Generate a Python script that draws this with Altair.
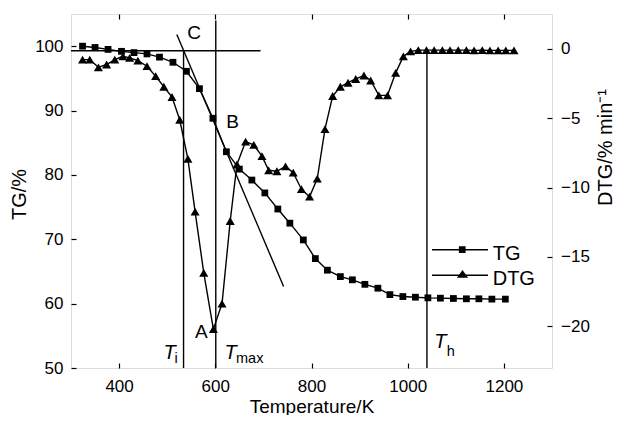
import altair as alt
import pandas as pd

FONT = "Liberation Sans"

# ---- data ----
tg_temp = [324, 350, 377, 405, 431, 458, 484, 512, 540, 567, 595, 623, 650, 676, 703,
           730, 755, 783, 808, 833, 860, 885, 911, 938, 963, 990, 1016, 1042, 1068,
           1095, 1122, 1148, 1175, 1203]
tg_mass = [100.0, 99.8, 99.5, 99.2, 99.0, 98.8, 98.3, 97.5, 96.1, 93.4, 88.8, 83.6, 80.9,
           79.2, 77.2, 74.7, 72.5, 69.9, 67.0, 65.2, 64.2, 63.7, 63.0, 62.4, 61.4, 61.1,
           61.0, 60.9, 60.85, 60.8, 60.75, 60.75, 60.7, 60.7]

dtg_temp = [324, 339, 357, 374, 391, 408, 422, 439, 458, 476, 493, 510, 526, 543, 558,
            576, 596, 614, 631, 645, 663, 680, 697, 711, 728, 746, 762, 779, 796, 812,
            828, 844, 860, 876, 892, 909, 923, 940, 958, 975, 991, 1006, 1022, 1039,
            1055, 1072, 1088, 1105, 1122, 1138, 1155, 1171, 1188, 1204, 1221]
dtg_rate = [-0.79, -0.79, -1.34, -1.14, -0.79, -0.55, -0.66, -0.86, -1.26, -1.98, -2.74,
            -3.48, -5.12, -7.93, -11.74, -16.14, -20.2, -18.36, -12.41, -8.34, -6.69,
            -6.93, -7.74, -8.76, -8.83, -8.48, -8.93, -10.12, -10.66, -9.36, -5.79,
            -3.41, -2.74, -2.45, -2.18, -1.93, -2.29, -3.36, -3.36, -1.74, -0.55, -0.19,
            -0.1, -0.1, -0.1, -0.1, -0.1, -0.1, -0.1, -0.12, -0.1, -0.12, -0.12, -0.12,
            -0.12]

# construction lines (in K and TG %)
hline_t = [300]
hline_t2 = [694]
hline_v = [99.3]
vline_t = [534, 601, 1040]
vline_top = [99.3, 104.0, 99.2]
vline_bottom = [50, 50, 50]
tangent_t = [520, 742]
tangent_v = [101.8, 62.65]

# annotations
letter_text = ["C", "B", "A"]
letter_t = [556, 636, 571]
letter_v = [101.1, 87.3, 54.6]
T_t = [505, 632, 1068]
T_v = [51.42, 51.42, 53.05]
sub_text = ["i", "max", "h"]
sub_t = [515, 643, 1081]
sub_v = [50.74, 50.74, 51.87]

series = ["TG", "DTG"]

x_ticks = [400, 600, 800, 1000, 1200]
tg_ticks = [50, 60, 70, 80, 90, 100]
dtg_ticks = [-20, -15, -10, -5, 0]

# ---- scales / axes ----
x_scale = alt.Scale(domain=[300, 1300], nice=False, zero=False)
tg_scale = alt.Scale(domain=[50, 105], nice=False, zero=False)
dtg_scale = alt.Scale(domain=[-23, 2.5], nice=False, zero=False)

common = dict(domain=False, grid=False, ticks=True, tickSize=5, offset=-5,
              tickColor="black", tickWidth=1.2, labelColor="black", titleColor="black",
              labelFont=FONT, titleFont=FONT, labelFontSize=17,
              titleFontWeight="normal", format="d")

x_axis = alt.Axis(values=x_ticks, title="Temperature/K", labelPadding=10,
                  titleFontSize=19, titleBaseline="alphabetic", titleY=49, **common)
tg_axis = alt.Axis(values=tg_ticks, title="TG/%", labelPadding=8, titleAngle=270,
                   titleFontSize=20, titleAlign="center", titleBaseline="alphabetic",
                   titleX=-51, titleY=180, **common)
dtg_axis = alt.Axis(values=dtg_ticks, title="DTG/% min\u207b\u00b9", orient="right",
                    labelPadding=8.5, titleAngle=270, titleAlign="center",
                    titleFontSize=20, titleBaseline="alphabetic", titleY=133,
                    titleX=64, **common)
top_axis = alt.Axis(values=x_ticks, orient="top", labels=False, title=None,
                    domain=False, grid=False, ticks=True, tickSize=5, offset=-5,
                    tickColor="black", tickWidth=1.2)

X = lambda f: alt.X(f, type="quantitative", scale=x_scale, axis=x_axis)
YT = lambda f: alt.Y(f, type="quantitative", scale=tg_scale, axis=tg_axis)
YD = lambda f: alt.Y(f, type="quantitative", scale=dtg_scale, axis=dtg_axis)

tg_df = pd.DataFrame({"t": tg_temp, "v": tg_mass})
dtg_df = pd.DataFrame({"t": dtg_temp, "v": dtg_rate})
hl_df = pd.DataFrame({"t": hline_t, "t2": hline_t2, "v": hline_v})
vl_df = pd.DataFrame({"t": vline_t, "v": vline_top, "v2": vline_bottom})
tan_df = pd.DataFrame({"t": tangent_t, "v": tangent_v})
let_df = pd.DataFrame({"t": letter_t, "v": letter_v, "s": letter_text})
T_df = pd.DataFrame({"t": T_t, "v": T_v, "s": ["T"] * 3})
sub_df = pd.DataFrame({"t": sub_t, "v": sub_v, "s": sub_text})
leg_df = pd.DataFrame({"series": series})

LW = 1.4

hl = alt.Chart(hl_df).mark_rule(color="black", strokeWidth=LW).encode(
    x=X("t"), x2="t2", y=YT("v"))
vl = alt.Chart(vl_df).mark_rule(color="black", strokeWidth=LW).encode(
    x=X("t"), y=YT("v"), y2="v2")
tan = alt.Chart(tan_df).mark_line(color="black", strokeWidth=LW).encode(
    x=X("t"), y=YT("v"))
tg_line = alt.Chart(tg_df).mark_line(color="black", strokeWidth=LW).encode(
    x=X("t"), y=YT("v"))
tg_pts = alt.Chart(tg_df).mark_point(shape="square", filled=True, size=46,
                                     color="black", opacity=1).encode(
    x=X("t"), y=YT("v"))
letters = alt.Chart(let_df).mark_text(font=FONT, fontSize=19, color="black",
                                      baseline="alphabetic", align="center").encode(
    x=X("t"), y=YT("v"), text="s:N")
Ts = alt.Chart(T_df).mark_text(font=FONT, fontSize=20, fontStyle="italic", color="black",
                               baseline="alphabetic", align="center").encode(
    x=X("t"), y=YT("v"), text="s:N")
subs = alt.Chart(sub_df).mark_text(font=FONT, fontSize=14.5, color="black",
                                   baseline="alphabetic", align="left").encode(
    x=X("t"), y=YT("v"), text="s:N")

# legend glyphs: a thin bar (the line) plus the marker, all filled,
# drawn a little above the label's middle as in the reference
tg_path = "M-2,-0.32H2V-0.22H-2ZM-0.08,-0.51H0.4V-0.03H-0.08Z"
dtg_path = "M-2,-0.32H2V-0.22H-2ZM-0.22,-0.1L0.18,-0.65L0.58,-0.1Z"
legend_layer = alt.Chart(leg_df).mark_point(
    filled=True, color="black", opacity=0
).encode(
    shape=alt.Shape("series:N",
                    scale=alt.Scale(domain=series, range=[tg_path, dtg_path]),
                    legend=alt.Legend(orient="none", legendX=375, legendY=225.5,
                                      title=None, symbolSize=784,
                                      symbolFillColor="black",
                                      symbolStrokeColor="black",
                                      symbolStrokeWidth=0, symbolOpacity=1,
                                      labelFont=FONT, labelFontSize=20,
                                      labelColor="black", labelOffset=18.7,
                                      rowPadding=1.6, padding=0)))

dtg_line = alt.Chart(dtg_df).mark_line(color="black", strokeWidth=LW).encode(
    x=X("t"), y=YD("v"))
dtg_pts = alt.Chart(dtg_df).mark_point(shape="triangle-up", filled=True, size=82,
                                       color="black", opacity=1).encode(
    x=X("t"), y=YD("v"))

tg_group = alt.layer(hl, vl, tan, tg_line, tg_pts, letters, Ts, subs, legend_layer)
dtg_group = alt.layer(dtg_line, dtg_pts)
main = alt.layer(tg_group, dtg_group).resolve_scale(y="independent")

top_df = pd.DataFrame({"t": [300, 1300]})
top = alt.Chart(top_df).mark_point(opacity=0).encode(
    x=alt.X("t:Q", scale=alt.Scale(domain=[300, 1300], nice=False, zero=False),
            axis=top_axis))

chart = alt.layer(main, top).resolve_scale(x="independent").properties(
    width=481, height=354,
    autosize=alt.AutoSizeParams(type="none"),
    padding={"left": 63, "top": 6, "right": 63, "bottom": 47},
).configure_view(stroke="black", strokeWidth=1.2).configure(background="white")

chart.save("out.html", embed_options={"renderer": "svg", "actions": False})
